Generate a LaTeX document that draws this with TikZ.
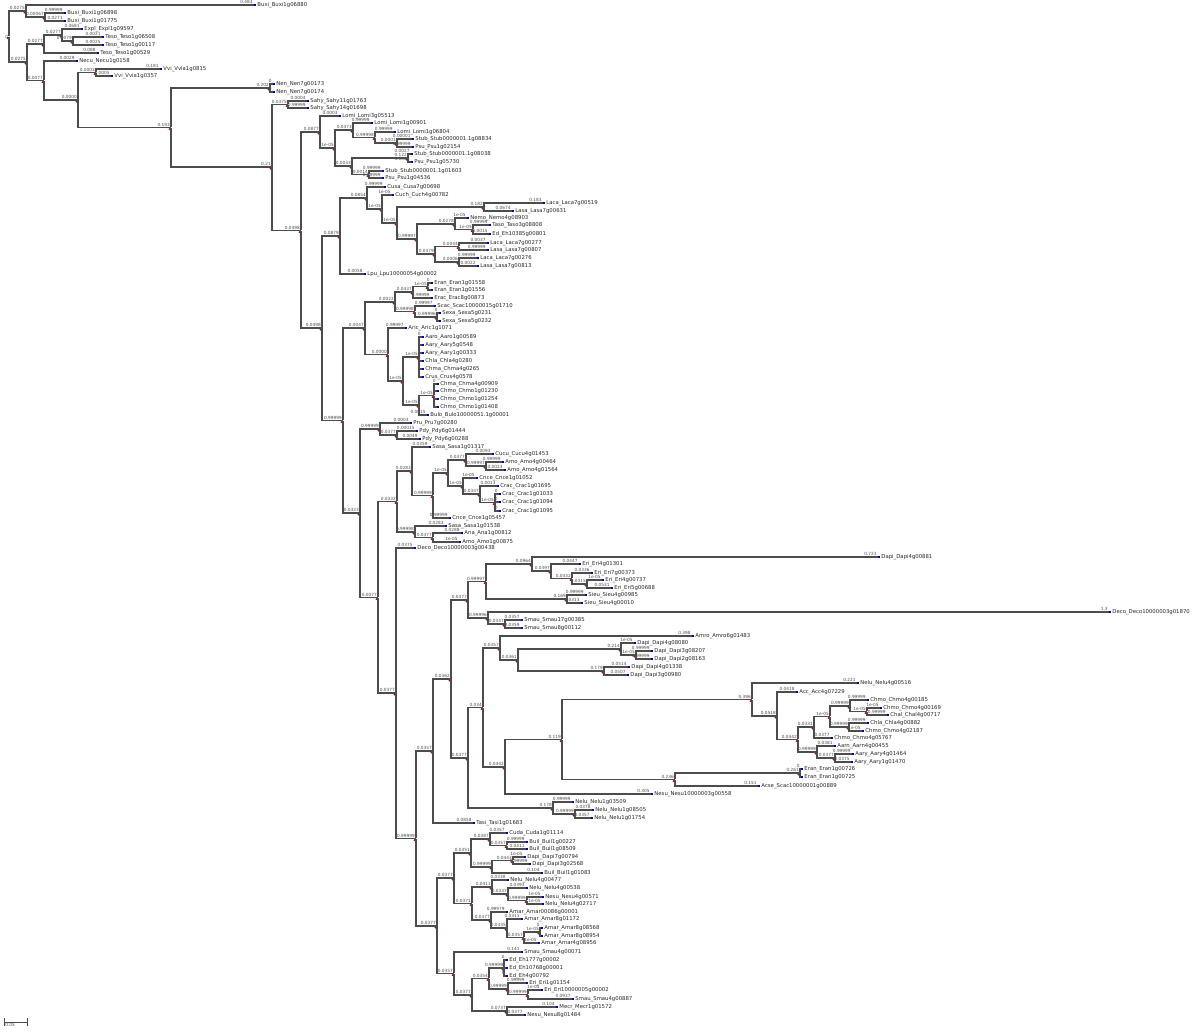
\documentclass[tikz,border=0pt]{standalone}
\usepackage{fontspec}
\setmainfont{DejaVu Sans}
\usepackage{tikz}

\begin{document}
\begin{tikzpicture}[%
    x=0.75pt,
    y=-0.75pt,
    br/.style={%
      draw=black!70,
      line width=0.9pt,
      to path={|- (\tikztotarget) \tikztonodes}
    },
    bl/.style={%
      pos=1,
      anchor=south east,
      inner sep=0.3pt,
      text=black!70,
      font=\fontsize{3.2}{3.4}\selectfont
    },
    rootlab/.style={%
      inner sep=0.3pt,
      text=black!70,
      font=\fontsize{3.2}{3.4}\selectfont
    },
    inode/.style={%
      inner sep=0pt,
      minimum size=0pt,
      label={[circle,fill=red!80!black,inner sep=0pt,minimum size=1.5pt,label distance=0.4pt]below left:{}}
    },
    tip/.style={%
      rectangle,
      fill=blue!75!black,
      inner sep=0pt,
      minimum size=1.7pt
    },
    leaf/.style={%
      inner sep=0.6pt,
      text=black!85,
      font=\fontsize{4}{4.4}\selectfont
    }
  ]
    \useasboundingbox (0,0) rectangle (1200,1032);

    % internal nodes
    \node[inode,label={[rootlab]left:0}] (root) at (9,36.5) {};
    \node[inode] (b1)  at (26,11) {};
    \node[inode] (b1a) at (45,17) {};
    \node[inode] (b2)  at (27,62) {};
    \node[inode] (b3)  at (44,44) {};
    \node[inode] (b3a) at (62,35) {};
    \node[inode] (b3b) at (73,41) {};
    \node[inode] (b4)  at (44,80.5) {};
    \node[inode] (b5)  at (78,100) {};
    \node[inode] (b6)  at (96,72.5) {};
    \node[inode] (b7)  at (171,127.5) {};
    \node[inode] (b8)  at (270,88) {};
    \node[inode] (b9)  at (272,167) {};
    \node[inode] (b10) at (288,104.5) {};
    \node[inode] (c1)  at (301,230.5) {};
    \node[inode] (c2)  at (320,132) {};
    \node[inode] (c3)  at (335,148) {};
    \node[inode] (c4)  at (353,130) {};
    \node[inode] (c5)  at (375,137.5) {};
    \node[inode] (c6)  at (397,143) {};
    \node[inode] (c7)  at (352,166) {};
    \node[inode] (c8)  at (408,158) {};
    \node[inode] (c9)  at (369,174.5) {};
    \node[inode] (c10) at (322,328) {};
    \node[inode] (d1)  at (340,236) {};
    \node[inode] (d2)  at (367,198) {};
    \node[inode] (d3)  at (382,209) {};
    \node[inode] (d4)  at (397,223) {};
    \node[inode] (d4b) at (417,239) {};
    \node[inode] (d5)  at (455,224) {};
    \node[inode] (d6)  at (473,229.5) {};
    \node[inode] (d7)  at (435,254) {};
    \node[inode] (d8)  at (459,246.5) {};
    \node[inode] (d9)  at (459,262) {};
    \node[inode] (d10) at (484,207) {};
    \node[inode] (e1)  at (343,420.5) {};
    \node[inode] (e2)  at (365,328) {};
    \node[inode] (e3)  at (395,302) {};
    \node[inode] (e4)  at (413,292) {};
    \node[inode] (e4a) at (428,286.5) {};
    \node[inode] (e5)  at (415,311.5) {};
    \node[inode] (e5a) at (437,317) {};
    \node[inode] (e6)  at (388,354.5) {};
    \node[inode] (e7)  at (403,381) {};
    \node[inode] (e8)  at (419,357) {};
    \node[inode] (e9)  at (419,405) {};
    \node[inode] (e10) at (434,395.5) {};
    \node[inode] (f1)  at (360,513) {};
    \node[inode] (f2)  at (380,429) {};
    \node[inode] (f3)  at (397,435) {};
    \node[inode] (g1)  at (378,597.5) {};
    \node[inode] (f4)  at (397,501.5) {};
    \node[inode] (f5)  at (412,471) {};
    \node[inode] (f6)  at (433,495.5) {};
    \node[inode] (f7)  at (448,473) {};
    \node[inode] (f8)  at (466,460) {};
    \node[inode] (f8a) at (486,466) {};
    \node[inode] (f10) at (463,486) {};
    \node[inode] (f11) at (480,494) {};
    \node[inode] (f12) at (495,502.5) {};
    \node[inode] (f9)  at (415,532) {};
    \node[inode] (f9a) at (433,537.5) {};
    \node[inode] (h1)  at (396,693) {};
    \node[inode] (h2)  at (416,838.5) {};
    \node[inode] (h3)  at (433,751) {};
    \node[inode] (h4)  at (451,679) {};
    \node[inode] (h5)  at (468,600) {};
    \node[inode] (h6)  at (486,581.5) {};
    \node[inode] (h7)  at (532,564) {};
    \node[inode] (h7a) at (551,571) {};
    \node[inode] (h7b) at (572,578.5) {};
    \node[inode] (h7c) at (587,584) {};
    \node[inode] (h8)  at (567,599) {};
    \node[inode] (h9)  at (488,618) {};
    \node[inode] (h9a) at (505,624) {};
    \node[inode] (i1)  at (468,758) {};
    \node[inode] (i2)  at (483,707.5) {};
    \node[inode] (i3)  at (500,648) {};
    \node[inode] (i4)  at (518,660) {};
    \node[inode] (i5)  at (621,649) {};
    \node[inode] (i5a) at (636,655) {};
    \node[inode] (i4b) at (604,671) {};
    \node[inode] (i6)  at (505,767) {};
    \node[inode] (i7)  at (562,739.5) {};
    \node[inode] (i8)  at (752,699.5) {};
    \node[inode] (i8a) at (777,716) {};
    \node[inode] (i8b) at (798,739.5) {};
    \node[inode] (i8c) at (814,727) {};
    \node[inode] (i8d) at (830,716.5) {};
    \node[inode] (i8e) at (850,706) {};
    \node[inode] (i8h) at (867,711.5) {};
    \node[inode] (i8g) at (849,727) {};
    \node[inode] (i8f) at (817,752) {};
    \node[inode] (i8i) at (835,758) {};
    \node[inode] (i12) at (675,779.5) {};
    \node[inode] (i12a) at (800,773) {};
    \node[inode] (i9)  at (553,808) {};
    \node[inode] (i9a) at (575,814) {};
    \node[inode] (k1)  at (437,926) {};
    \node[inode] (k2)  at (454,878) {};
    \node[inode] (k3)  at (471,853) {};
    \node[inode] (k4)  at (490,839) {};
    \node[inode] (k4a) at (507,845.5) {};
    \node[inode] (k5)  at (492,867) {};
    \node[inode] (k5a) at (513,860.5) {};
    \node[inode] (k7)  at (472,903.5) {};
    \node[inode] (k8)  at (492,887) {};
    \node[inode] (k9)  at (508,894) {};
    \node[inode] (k9a) at (527,900.5) {};
    \node[inode] (k10) at (491,920) {};
    \node[inode] (k11) at (507,928) {};
    \node[inode] (k12) at (524,937.5) {};
    \node[inode] (k12a) at (540,932) {};
    \node[inode] (m1)  at (454,973.5) {};
    \node[inode] (m2)  at (472,995) {};
    \node[inode] (m3)  at (489,978.5) {};
    \node[inode] (m4)  at (504,968) {};
    \node[inode] (m5)  at (508,989) {};
    \node[inode] (m5a) at (528,994.5) {};
    \node[inode] (m6)  at (507,1011) {};

    % tips
    \node[tip,label={[leaf]right:Buxi\_Buxi1g06880}] (l1) at (255,5) {};
    \node[tip,label={[leaf]right:Buxi\_Buxi1g06898}] (l2) at (65,13) {};
    \node[tip,label={[leaf]right:Buxi\_Buxi1g01775}] (l3) at (65,21) {};
    \node[tip,label={[leaf]right:Expl\_Expl1g09597}] (l4) at (82,29) {};
    \node[tip,label={[leaf]right:Teso\_Teso1g06508}] (l5) at (103,37) {};
    \node[tip,label={[leaf]right:Teso\_Teso1g00117}] (l6) at (103,45) {};
    \node[tip,label={[leaf]right:Teso\_Teso1g00529}] (l7) at (98,53) {};
    \node[tip,label={[leaf]right:Necu\_Necu1g0158}] (l8) at (77,61) {};
    \node[tip,label={[leaf]right:Vvi\_Vvia1g0815}] (l9) at (161,69) {};
    \node[tip,label={[leaf]right:Vvi\_Vvia1g0357}] (l10) at (112,76) {};
    \node[tip,label={[leaf]right:Nen\_Nen7g00173}] (l11) at (274,84) {};
    \node[tip,label={[leaf]right:Nen\_Nen7g00174}] (l12) at (274,92) {};
    \node[tip,label={[leaf]right:Sahy\_Sahy11g01763}] (l13) at (308,101) {};
    \node[tip,label={[leaf]right:Sahy\_Sahy14g01698}] (l14) at (308,108) {};
    \node[tip,label={[leaf]right:Lomi\_Lomi3g05513}] (l15) at (340,116) {};
    \node[tip,label={[leaf]right:Lomi\_Lomi1g00901}] (l16) at (372,123) {};
    \node[tip,label={[leaf]right:Lomi\_Lomi1g06804}] (l17) at (395,132) {};
    \node[tip,label={[leaf]right:Stub\_Stub0000001.1g08834}] (l18) at (413,139) {};
    \node[tip,label={[leaf]right:Psu\_Psu1g02154}] (l19) at (413,147) {};
    \node[tip,label={[leaf]right:Stub\_Stub0000001.1g08038}] (l20) at (412,154) {};
    \node[tip,label={[leaf]right:Psu\_Psu1g05730}] (l21) at (412,162) {};
    \node[tip,label={[leaf]right:Stub\_Stub0000001.1g01603}] (l22) at (383,171) {};
    \node[tip,label={[leaf]right:Psu\_Psu1g04536}] (l23) at (383,178) {};
    \node[tip,label={[leaf]right:Cusa\_Cusa7g00698}] (l24) at (385,187) {};
    \node[tip,label={[leaf]right:Cuch\_Cuch4g00782}] (l25) at (393,195) {};
    \node[tip,label={[leaf]right:Laca\_Laca7g00519}] (l26) at (544,203) {};
    \node[tip,label={[leaf]right:Lasa\_Lasa7g00631}] (l27) at (513,211) {};
    \node[tip,label={[leaf]right:Nemo\_Nemo4g08903}] (l28) at (468,218) {};
    \node[tip,label={[leaf]right:Taso\_Taso3g08808}] (l29) at (490,225) {};
    \node[tip,label={[leaf]right:Ed\_Eh10385g00801}] (l30) at (490,234) {};
    \node[tip,label={[leaf]right:Laca\_Laca7g00277}] (l31) at (488,243) {};
    \node[tip,label={[leaf]right:Lasa\_Lasa7g00807}] (l32) at (488,250) {};
    \node[tip,label={[leaf]right:Laca\_Laca7g00276}] (l33) at (478,258) {};
    \node[tip,label={[leaf]right:Lasa\_Lasa7g00813}] (l34) at (478,266) {};
    \node[tip,label={[leaf]right:Lpu\_Lpu10000054g00002}] (l35) at (365,274) {};
    \node[tip,label={[leaf]right:Eran\_Eran1g01558}] (l36) at (432,283) {};
    \node[tip,label={[leaf]right:Eran\_Eran1g01556}] (l37) at (432,290) {};
    \node[tip,label={[leaf]right:Erac\_Erac8g00873}] (l38) at (432,298) {};
    \node[tip,label={[leaf]right:Scac\_Scac10000015g01710}] (l39) at (435,306) {};
    \node[tip,label={[leaf]right:Sexa\_Sexa5g0231}] (l40) at (440,313) {};
    \node[tip,label={[leaf]right:Sexa\_Sexa5g0232}] (l41) at (440,321) {};
    \node[tip,label={[leaf]right:Aric\_Aric1g1071}] (l42) at (406,328) {};
    \node[tip,label={[leaf]right:Aaro\_Aaro1g00589}] (l43) at (423,337) {};
    \node[tip,label={[leaf]right:Aary\_Aary5g0548}] (l44) at (423,345) {};
    \node[tip,label={[leaf]right:Aary\_Aary1g00333}] (l45) at (423,353) {};
    \node[tip,label={[leaf]right:Chla\_Chla4g0280}] (l46) at (423,361) {};
    \node[tip,label={[leaf]right:Chma\_Chma4g0265}] (l47) at (423,369) {};
    \node[tip,label={[leaf]right:Crus\_Crus4g0578}] (l48) at (423,377) {};
    \node[tip,label={[leaf]right:Chma\_Chma4g00909}] (l49) at (438,384) {};
    \node[tip,label={[leaf]right:Chmo\_Chmo1g01230}] (l50) at (438,391) {};
    \node[tip,label={[leaf]right:Chmo\_Chmo1g01254}] (l51) at (438,399) {};
    \node[tip,label={[leaf]right:Chmo\_Chmo1g01408}] (l52) at (438,407) {};
    \node[tip,label={[leaf]right:Bulo\_Bulo10000051.1g00001}] (l53) at (428,415) {};
    \node[tip,label={[leaf]right:Pru\_Pru7g00280}] (l54) at (411,423) {};
    \node[tip,label={[leaf]right:Pdy\_Pdy6g01444}] (l55) at (417,431) {};
    \node[tip,label={[leaf]right:Pdy\_Pdy6g00288}] (l56) at (420,439) {};
    \node[tip,label={[leaf]right:Sasa\_Sasa1g01317}] (l57) at (430,447) {};
    \node[tip,label={[leaf]right:Cucu\_Cucu4g01453}] (l58) at (493,454) {};
    \node[tip,label={[leaf]right:Amo\_Amo4g00464}] (l59) at (503,462) {};
    \node[tip,label={[leaf]right:Amo\_Amo4g01564}] (l60) at (505,470) {};
    \node[tip,label={[leaf]right:Cnce\_Cnce1g01052}] (l61) at (477,478) {};
    \node[tip,label={[leaf]right:Crac\_Crac1g01695}] (l62) at (498,486) {};
    \node[tip,label={[leaf]right:Crac\_Crac1g01033}] (l63) at (500,494) {};
    \node[tip,label={[leaf]right:Crac\_Crac1g01094}] (l64) at (500,502) {};
    \node[tip,label={[leaf]right:Crac\_Crac1g01095}] (l65) at (500,511) {};
    \node[tip,label={[leaf]right:Cnce\_Cnce1g05457}] (l66) at (450,518) {};
    \node[tip,label={[leaf]right:Sasa\_Sasa1g01538}] (l67) at (446,526) {};
    \node[tip,label={[leaf]right:Ana\_Ana1g00812}] (l68) at (462,533) {};
    \node[tip,label={[leaf]right:Amo\_Amo1g00875}] (l69) at (460,542) {};
    \node[tip,label={[leaf]right:Deco\_Deco10000003g00438}] (l70) at (415,548) {};
    \node[tip,label={[leaf]right:Dapi\_Dapi4g00881}] (l71) at (879,557) {};
    \node[tip,label={[leaf]right:Eri\_Eri4g01301}] (l72) at (580,564) {};
    \node[tip,label={[leaf]right:Eri\_Eri7g00373}] (l73) at (592,573) {};
    \node[tip,label={[leaf]right:Eri\_Eri4g00737}] (l74) at (603,580) {};
    \node[tip,label={[leaf]right:Eri\_Eri5g00688}] (l75) at (612,588) {};
    \node[tip,label={[leaf]right:Sieu\_Sieu4g00985}] (l76) at (586,595) {};
    \node[tip,label={[leaf]right:Sieu\_Sieu4g00010}] (l77) at (582,603) {};
    \node[tip,label={[leaf]right:Deco\_Deco10000003g01870}] (l78) at (1110,612) {};
    \node[tip,label={[leaf]right:Smau\_Smau17g00385}] (l79) at (522,620) {};
    \node[tip,label={[leaf]right:Smau\_Smau8g00112}] (l80) at (522,628) {};
    \node[tip,label={[leaf]right:Amro\_Amro6g01483}] (l81) at (693,636) {};
    \node[tip,label={[leaf]right:Dapi\_Dapi4g08080}] (l82) at (635,643) {};
    \node[tip,label={[leaf]right:Dapi\_Dapi3g08207}] (l83) at (652,651) {};
    \node[tip,label={[leaf]right:Dapi\_Dapi2g08163}] (l84) at (652,659) {};
    \node[tip,label={[leaf]right:Dapi\_Dapi4g01338}] (l85) at (629,667) {};
    \node[tip,label={[leaf]right:Dapi\_Dapi3g00980}] (l86) at (628,675) {};
    \node[tip,label={[leaf]right:Nelu\_Nelu4g00516}] (l87) at (858,683) {};
    \node[tip,label={[leaf]right:Acc\_Acc4g07229}] (l88) at (797,692) {};
    \node[tip,label={[leaf]right:Chmo\_Chmo4g00185}] (l89) at (868,700) {};
    \node[tip,label={[leaf]right:Chmo\_Chmo4g00169}] (l90) at (881,708) {};
    \node[tip,label={[leaf]right:Chal\_Chal4g00717}] (l91) at (888,715) {};
    \node[tip,label={[leaf]right:Chla\_Chla4g00882}] (l92) at (868,723) {};
    \node[tip,label={[leaf]right:Chmo\_Chmo4g02187}] (l93) at (863,731) {};
    \node[tip,label={[leaf]right:Chmo\_Chmo4g05767}] (l94) at (832,738) {};
    \node[tip,label={[leaf]right:Aarn\_Aarn4g00455}] (l95) at (835,746) {};
    \node[tip,label={[leaf]right:Aary\_Aary4g01464}] (l96) at (853,754) {};
    \node[tip,label={[leaf]right:Aary\_Aary1g01470}] (l97) at (852,762) {};
    \node[tip,label={[leaf]right:Eran\_Eran1g00726}] (l98) at (802,769) {};
    \node[tip,label={[leaf]right:Eran\_Eran1g00725}] (l99) at (802,777) {};
    \node[tip,label={[leaf]right:Acse\_Scac10000001g00889}] (l100) at (759,786) {};
    \node[tip,label={[leaf]right:Nesu\_Nesu10000003g00558}] (l101) at (652,794) {};
    \node[tip,label={[leaf]right:Nelu\_Nelu1g03509}] (l102) at (573,802) {};
    \node[tip,label={[leaf]right:Nelu\_Nelu1g08505}] (l103) at (593,810) {};
    \node[tip,label={[leaf]right:Nelu\_Nelu1g01754}] (l104) at (592,818) {};
    \node[tip,label={[leaf]right:Tasi\_Tasi1g01683}] (l105) at (474,823) {};
    \node[tip,label={[leaf]right:Cuda\_Cuda1g01114}] (l106) at (507,833) {};
    \node[tip,label={[leaf]right:Buil\_Buil1g00227}] (l107) at (527,842) {};
    \node[tip,label={[leaf]right:Buil\_Buil1g08509}] (l108) at (527,849) {};
    \node[tip,label={[leaf]right:Dapi\_Dapi7g00794}] (l109) at (525,857) {};
    \node[tip,label={[leaf]right:Dapi\_Dapi3g02568}] (l110) at (530,864) {};
    \node[tip,label={[leaf]right:Buil\_Buil1g01083}] (l111) at (542,873) {};
    \node[tip,label={[leaf]right:Nelu\_Nelu4g00477}] (l112) at (508,880) {};
    \node[tip,label={[leaf]right:Nelu\_Nelu4g00538}] (l113) at (527,888) {};
    \node[tip,label={[leaf]right:Nesu\_Nesu4g00571}] (l114) at (543,897) {};
    \node[tip,label={[leaf]right:Nelu\_Nelu4g02717}] (l115) at (543,904) {};
    \node[tip,label={[leaf]right:Amar\_Amar00086g00001}] (l116) at (507,912) {};
    \node[tip,label={[leaf]right:Amar\_Amar8g01172}] (l117) at (522,919) {};
    \node[tip,label={[leaf]right:Amar\_Amar8g08568}] (l118) at (542,928) {};
    \node[tip,label={[leaf]right:Amar\_Amar8g08954}] (l119) at (542,936) {};
    \node[tip,label={[leaf]right:Amar\_Amar4g08956}] (l120) at (539,943) {};
    \node[tip,label={[leaf]right:Smau\_Smau4g00071}] (l121) at (522,952) {};
    \node[tip,label={[leaf]right:Ed\_Eh1777g00002}] (l122) at (507,960) {};
    \node[tip,label={[leaf]right:Ed\_Eh10768g00001}] (l123) at (507,968) {};
    \node[tip,label={[leaf]right:Ed\_Eh4g00792}] (l124) at (507,976) {};
    \node[tip,label={[leaf]right:Eri\_Eri1g01154}] (l125) at (527,983) {};
    \node[tip,label={[leaf]right:Eri\_Eri10000005g00002}] (l126) at (542,990) {};
    \node[tip,label={[leaf]right:Smau\_Smau4g00887}] (l127) at (573,999) {};
    \node[tip,label={[leaf]right:Mecr\_Mecr1g01572}] (l128) at (557,1007) {};
    \node[tip,label={[leaf]right:Nesu\_Nesu8g01484}] (l129) at (525,1015) {};

    % branches, top part
    \path (root) edge[br] node[bl] {0.0275} (b1)
          (root) edge[br] node[bl] {0.0275} (b2)
          (b1)   edge[br] node[bl] {0.483} (l1)
          (b1)   edge[br] node[bl] {0.00067} (b1a)
          (b1a)  edge[br] node[bl] {0.99999} (l2)
          (b1a)  edge[br] node[bl] {0.0271} (l3)
          (b2)   edge[br] node[bl] {0.0277} (b3)
          (b3)   edge[br] node[bl] {0.0277} (b3a)
          (b3a)  edge[br] node[bl] {0.0681} (l4)
          (b3a)  edge[br] node[bl] {0.0079} (b3b)
          (b3b)  edge[br] node[bl] {0.0021} (l5)
          (b3b)  edge[br] node[bl] {0.0025} (l6)
          (b3)   edge[br] node[bl] {0.088} (l7)
          (b2)   edge[br] node[bl] {0.0077} (b4)
          (b4)   edge[br] node[bl] {0.0029} (l8)
          (b4)   edge[br] node[bl] {0.0000} (b5)
          (b5)   edge[br] node[bl] {0.0003} (b6)
          (b6)   edge[br] node[bl] {0.181} (l9)
          (b6)   edge[br] node[bl] {0.0005} (l10)
          (b5)   edge[br] node[bl] {0.193} (b7)
          (b7)   edge[br] node[bl] {0.202} (b8)
          (b8)   edge[br] node[bl] {0} (l11)
          (b8)   edge[br] node[bl] {0} (l12)
          (b7)   edge[br] node[bl] {0.21} (b9)
          (b9)   edge[br] node[bl] {0.0375} (b10)
          (b10)  edge[br] node[bl] {0.0004} (l13)
          (b10)  edge[br] node[bl] {0.99999} (l14)
          (b9)   edge[br] node[bl] {0.0498} (c1);

    % Lomi / Stub clade
    \path (c1)  edge[br] node[bl] {0.0877} (c2)
          (c2)  edge[br] node[bl] {0.0003} (l15)
          (c2)  edge[br] node[bl] {1e-05} (c3)
          (c3)  edge[br] node[bl] {0.0373} (c4)
          (c4)  edge[br] node[bl] {0.99999} (l16)
          (c4)  edge[br] node[bl] {0.99998} (c5)
          (c5)  edge[br] node[bl] {0.99999} (l17)
          (c5)  edge[br] node[bl] {0.0001} (c6)
          (c6)  edge[br] node[bl] {0.00001} (l18)
          (c6)  edge[br] node[bl] {0.99999} (l19)
          (c3)  edge[br] node[bl] {0.0033} (c7)
          (c7)  edge[br] node[bl] {0.122} (c8)
          (c8)  edge[br] node[bl] {0.0027} (l20)
          (c8)  edge[br] node[bl] {0.0008} (l21)
          (c7)  edge[br] node[bl] {0.0014} (c9)
          (c9)  edge[br] node[bl] {0.99999} (l22)
          (c9)  edge[br] node[bl] {0.99999} (l23)
          (c1)  edge[br] node[bl] {0.0498} (c10);

    % Cusa / Laca clade
    \path (c10) edge[br] node[bl] {0.0879} (d1)
          (d1)  edge[br] node[bl] {0.0854} (d2)
          (d2)  edge[br] node[bl] {0.99999} (l24)
          (d2)  edge[br] node[bl] {1e-05} (d3)
          (d3)  edge[br] node[bl] {1e-05} (l25)
          (d3)  edge[br] node[bl] {1e-05} (d4)
          (d4)  edge[br] node[bl] {0.182} (d10)
          (d10) edge[br] node[bl] {0.183} (l26)
          (d10) edge[br] node[bl] {0.0674} (l27)
          (d4)  edge[br] node[bl] {0.99997} (d4b)
          (d4b) edge[br] node[bl] {0.0278} (d5)
          (d5)  edge[br] node[bl] {1e-05} (l28)
          (d5)  edge[br] node[bl] {1e-05} (d6)
          (d6)  edge[br] node[bl] {0.99999} (l29)
          (d6)  edge[br] node[bl] {0.0015} (l30)
          (d4b) edge[br] node[bl] {0.0379} (d7)
          (d7)  edge[br] node[bl] {0.0044} (d8)
          (d8)  edge[br] node[bl] {0.0037} (l31)
          (d8)  edge[br] node[bl] {0.99999} (l32)
          (d7)  edge[br] node[bl] {0.0006} (d9)
          (d9)  edge[br] node[bl] {0.99999} (l33)
          (d9)  edge[br] node[bl] {0.0022} (l34)
          (d1)  edge[br] node[bl] {0.0058} (l35);

    % Eran / Chmo clade
    \path (c10) edge[br] node[bl] {0.99999} (e1)
          (e1)  edge[br] node[bl] {0.0047} (e2)
          (e2)  edge[br] node[bl] {0.0022} (e3)
          (e3)  edge[br] node[bl] {0.0437} (e4)
          (e4)  edge[br] node[bl] {1e-05} (e4a)
          (e4a) edge[br] node[bl] {0} (l36)
          (e4a) edge[br] node[bl] {0} (l37)
          (e4)  edge[br] node[bl] {0.99999} (l38)
          (e3)  edge[br] node[bl] {0.99998} (e5)
          (e5)  edge[br] node[bl] {0.99997} (l39)
          (e5)  edge[br] node[bl] {0.99996} (e5a)
          (e5a) edge[br] node[bl] {0} (l40)
          (e5a) edge[br] node[bl] {0} (l41)
          (e2)  edge[br] node[bl] {0.0000} (e6)
          (e6)  edge[br] node[bl] {0.99997} (l42)
          (e6)  edge[br] node[bl] {1e-05} (e7)
          (e7)  edge[br] node[bl] {1e-05} (e8)
          (e8)  edge[br] node[bl] {0} (l43)
          (e8)  edge[br] node[bl] {0} (l44)
          (e8)  edge[br] node[bl] {0} (l45)
          (e8)  edge[br] node[bl] {0} (l46)
          (e8)  edge[br] node[bl] {0} (l47)
          (e8)  edge[br] node[bl] {0} (l48)
          (e7)  edge[br] node[bl] {1e-05} (e9)
          (e9)  edge[br] node[bl] {1e-05} (e10)
          (e10) edge[br] node[bl] {0} (l49)
          (e10) edge[br] node[bl] {0} (l50)
          (e10) edge[br] node[bl] {0} (l51)
          (e10) edge[br] node[bl] {0} (l52)
          (e9)  edge[br] node[bl] {0.0015} (l53);

    % Pru / Crac clade
    \path (e1)  edge[br] node[bl] {0.0323} (f1)
          (f1)  edge[br] node[bl] {0.99999} (f2)
          (f2)  edge[br] node[bl] {0.0003} (l54)
          (f2)  edge[br] node[bl] {0.0377} (f3)
          (f3)  edge[br] node[bl] {0.00015} (l55)
          (f3)  edge[br] node[bl] {0.0049} (l56)
          (f1)  edge[br] node[bl] {0.0077} (g1)
          (g1)  edge[br] node[bl] {0.0332} (f4)
          (f4)  edge[br] node[bl] {0.0283} (f5)
          (f5)  edge[br] node[bl] {0.0359} (l57)
          (f5)  edge[br] node[bl] {0.99999} (f6)
          (f6)  edge[br] node[bl] {1e-05} (f7)
          (f7)  edge[br] node[bl] {0.0377} (f8)
          (f8)  edge[br] node[bl] {0.0093} (l58)
          (f8)  edge[br] node[bl] {0.99997} (f8a)
          (f8a) edge[br] node[bl] {0.99999} (l59)
          (f8a) edge[br] node[bl] {0.0023} (l60)
          (f7)  edge[br] node[bl] {1e-05} (f10)
          (f10) edge[br] node[bl] {1e-05} (l61)
          (f10) edge[br] node[bl] {0.0347} (f11)
          (f11) edge[br] node[bl] {0.0013} (l62)
          (f11) edge[br] node[bl] {1e-05} (f12)
          (f12) edge[br] node[bl] {0} (l63)
          (f12) edge[br] node[bl] {0} (l64)
          (f12) edge[br] node[bl] {0} (l65)
          (f6)  edge[br] node[bl] {0.99999} (l66)
          (f4)  edge[br] node[bl] {0.99998} (f9)
          (f9)  edge[br] node[bl] {0.0283} (l67)
          (f9)  edge[br] node[bl] {0.0377} (f9a)
          (f9a) edge[br] node[bl] {0.0288} (l68)
          (f9a) edge[br] node[bl] {1e-05} (l69);

    % long branch clade
    \path (g1)  edge[br] node[bl] {0.0377} (h1)
          (h1)  edge[br] node[bl] {0.0375} (l70)
          (h1)  edge[br] node[bl] {0.99999} (h2)
          (h2)  edge[br] node[bl] {0.0357} (h3)
          (h3)  edge[br] node[bl] {0.0362} (h4)
          (h4)  edge[br] node[bl] {0.0377} (h5)
          (h5)  edge[br] node[bl] {0.99997} (h6)
          (h6)  edge[br] node[bl] {0.0964} (h7)
          (h7)  edge[br] node[bl] {0.723} (l71)
          (h7)  edge[br] node[bl] {0.0397} (h7a)
          (h7a) edge[br] node[bl] {0.0447} (l72)
          (h7a) edge[br] node[bl] {0.0432} (h7b)
          (h7b) edge[br] node[bl] {0.0336} (l73)
          (h7b) edge[br] node[bl] {0.0315} (h7c)
          (h7c) edge[br] node[bl] {1e-05} (l74)
          (h7c) edge[br] node[bl] {0.0531} (l75)
          (h6)  edge[br] node[bl] {0.169} (h8)
          (h8)  edge[br] node[bl] {0.99999} (l76)
          (h8)  edge[br] node[bl] {0.0313} (l77)
          (h5)  edge[br] node[bl] {0.99996} (h9)
          (h9)  edge[br] node[bl] {1.3} (l78)
          (h9)  edge[br] node[bl] {0.0347} (h9a)
          (h9a) edge[br] node[bl] {0.0357} (l79)
          (h9a) edge[br] node[bl] {0.0359} (l80)
          (h4)  edge[br] node[bl] {0.0377} (i1)
          (i1)  edge[br] node[bl] {0.034} (i2)
          (i2)  edge[br] node[bl] {0.0357} (i3)
          (i3)  edge[br] node[bl] {0.398} (l81)
          (i3)  edge[br] node[bl] {0.0361} (i4)
          (i4)  edge[br] node[bl] {0.214} (i5)
          (i5)  edge[br] node[bl] {1e-05} (l82)
          (i5)  edge[br] node[bl] {1e-05} (i5a)
          (i5a) edge[br] node[bl] {0.99999} (l83)
          (i5a) edge[br] node[bl] {0.99999} (l84)
          (i4)  edge[br] node[bl] {0.179} (i4b)
          (i4b) edge[br] node[bl] {0.0514} (l85)
          (i4b) edge[br] node[bl] {0.0507} (l86)
          (i2)  edge[br] node[bl] {0.0442} (i6)
          (i6)  edge[br] node[bl] {0.119} (i7)
          (i7)  edge[br] node[bl] {0.396} (i8)
          (i8)  edge[br] node[bl] {0.221} (l87)
          (i8)  edge[br] node[bl] {0.0518} (i8a)
          (i8a) edge[br] node[bl] {0.0418} (l88)
          (i8a) edge[br] node[bl] {0.0442} (i8b)
          (i8b) edge[br] node[bl] {0.0331} (i8c)
          (i8c) edge[br] node[bl] {1e-05} (i8d)
          (i8d) edge[br] node[bl] {0.99999} (i8e)
          (i8e) edge[br] node[bl] {0.99999} (l89)
          (i8e) edge[br] node[bl] {1e-05} (i8h)
          (i8h) edge[br] node[bl] {1e-05} (l90)
          (i8h) edge[br] node[bl] {0.99999} (l91)
          (i8d) edge[br] node[bl] {0.99999} (i8g)
          (i8g) edge[br] node[bl] {0.99999} (l92)
          (i8g) edge[br] node[bl] {1e-05} (l93)
          (i8c) edge[br] node[bl] {0.0377} (l94)
          (i8b) edge[br] node[bl] {0.99999} (i8f)
          (i8f) edge[br] node[bl] {0.0381} (l95)
          (i8f) edge[br] node[bl] {0.0377} (i8i)
          (i8i) edge[br] node[bl] {0.99999} (l96)
          (i8i) edge[br] node[bl] {0.0375} (l97)
          (i7)  edge[br] node[bl] {0.236} (i12)
          (i12) edge[br] node[bl] {0.261} (i12a)
          (i12a) edge[br] node[bl] {0} (l98)
          (i12a) edge[br] node[bl] {0} (l99)
          (i12) edge[br] node[bl] {0.151} (l100)
          (i6)  edge[br] node[bl] {0.305} (l101)
          (i1)  edge[br] node[bl] {0.178} (i9)
          (i9)  edge[br] node[bl] {0.99999} (l102)
          (i9)  edge[br] node[bl] {0.99999} (i9a)
          (i9a) edge[br] node[bl] {0.0378} (l103)
          (i9a) edge[br] node[bl] {0.0357} (l104)
          (h3)  edge[br] node[bl] {0.0858} (l105);

    % bottom clade
    \path (h2)  edge[br] node[bl] {0.0377} (k1)
          (k1)  edge[br] node[bl] {0.0377} (k2)
          (k2)  edge[br] node[bl] {0.0351} (k3)
          (k3)  edge[br] node[bl] {0.0387} (k4)
          (k4)  edge[br] node[bl] {0.0357} (l106)
          (k4)  edge[br] node[bl] {0.0357} (k4a)
          (k4a) edge[br] node[bl] {0.99999} (l107)
          (k4a) edge[br] node[bl] {0.0411} (l108)
          (k3)  edge[br] node[bl] {0.99999} (k5)
          (k5)  edge[br] node[bl] {0.0443} (k5a)
          (k5a) edge[br] node[bl] {1e-05} (l109)
          (k5a) edge[br] node[bl] {0.99999} (l110)
          (k5)  edge[br] node[bl] {0.104} (l111)
          (k2)  edge[br] node[bl] {0.0371} (k7)
          (k7)  edge[br] node[bl] {0.0411} (k8)
          (k8)  edge[br] node[bl] {0.0338} (l112)
          (k8)  edge[br] node[bl] {0.0337} (k9)
          (k9)  edge[br] node[bl] {0.0393} (l113)
          (k9)  edge[br] node[bl] {0.99999} (k9a)
          (k9a) edge[br] node[bl] {1e-05} (l114)
          (k9a) edge[br] node[bl] {1e-05} (l115)
          (k7)  edge[br] node[bl] {0.0377} (k10)
          (k10) edge[br] node[bl] {0.99979} (l116)
          (k10) edge[br] node[bl] {0.0335} (k11)
          (k11) edge[br] node[bl] {0.0311} (l117)
          (k11) edge[br] node[bl] {0.0357} (k12)
          (k12) edge[br] node[bl] {1e-05} (k12a)
          (k12a) edge[br] node[bl] {0} (l118)
          (k12a) edge[br] node[bl] {0} (l119)
          (k12) edge[br] node[bl] {1e-05} (l120)
          (k1)  edge[br] node[bl] {0.0357} (m1)
          (m1)  edge[br] node[bl] {0.141} (l121)
          (m1)  edge[br] node[bl] {0.0377} (m2)
          (m2)  edge[br] node[bl] {0.0354} (m3)
          (m3)  edge[br] node[bl] {0.99999} (m4)
          (m4)  edge[br] node[bl] {0} (l122)
          (m4)  edge[br] node[bl] {0} (l123)
          (m4)  edge[br] node[bl] {0} (l124)
          (m3)  edge[br] node[bl] {0.99999} (m5)
          (m5)  edge[br] node[bl] {0.99999} (l125)
          (m5)  edge[br] node[bl] {0.99999} (m5a)
          (m5a) edge[br] node[bl] {1e-05} (l126)
          (m5a) edge[br] node[bl] {0.0937} (l127)
          (m2)  edge[br] node[bl] {0.0737} (m6)
          (m6)  edge[br] node[bl] {0.104} (l128)
          (m6)  edge[br] node[bl] {0.0377} (l129);

    % scale bar
    \coordinate (sbl) at (4,1022);
    \coordinate (sbr) at (28,1022);
    \draw[black!70, line width=0.5pt, |-|] (sbl) -- (sbr)
      node[pos=0, anchor=north west, inner sep=0.8pt, text=black!70,
           font=\fontsize{3.2}{3.4}\selectfont] {0.05};
\end{tikzpicture}
\end{document}
